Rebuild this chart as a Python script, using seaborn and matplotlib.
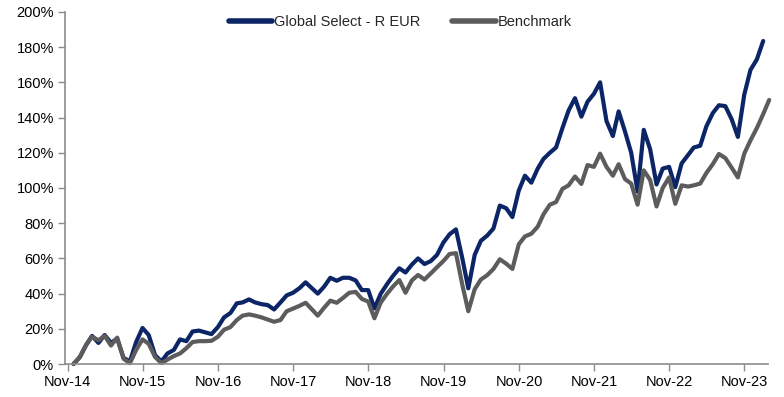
import pandas as pd
import matplotlib
matplotlib.use("Agg")
import matplotlib.pyplot as plt
import matplotlib.dates as mdates
from matplotlib.ticker import PercentFormatter, MultipleLocator
import seaborn as sns

# Rentabilidad acumulada (%) a fin de mes, desde nov-14
SERIE_FONDO = "Global Select - R EUR"
SERIE_BENCH = "Benchmark"

fondo = [
    0, 4, 11, 16, 12, 16.5, 12, 14.5, 3.5, 1.5, 12.5, 20.5, 16.5, 5, 1.5, 6, 8, 14, 13, 18.5,
    19, 18, 17, 21, 26.5, 29, 34.5, 35, 36.7, 35, 34, 33.5, 31, 35, 39, 40.5, 43, 46.4, 43, 40,
    44, 49, 47.3, 49, 49, 47.5, 42, 42, 31.6, 40, 45.5, 50, 54.4, 52, 56.5, 60, 56.8, 58.5, 62, 69,
    73.7, 76.5, 60, 43, 62, 70, 73, 77, 90, 88.5, 83.5, 98.5, 107, 103, 111, 116.5, 120, 123, 134, 144,
    151, 140.5, 149, 153.5, 160, 138, 129.5, 143.5, 132, 120, 98, 133, 122, 102, 111, 112, 100.5, 114, 118.7, 123,
    124, 135, 142.5, 147, 146.5, 139, 129, 153, 167, 173, 183.5,
]

benchmark = [
    0, 4, 11, 15.5, 13.5, 16, 10.5, 15, 3, 0.5, 8, 14, 11.5, 4, 0.5, 2.5, 4.5, 6, 9, 12.5,
    13, 13, 13.2, 15.5, 19.5, 21, 25, 27.5, 28.2, 27.5, 26.5, 25.3, 24, 25, 30, 31.5, 33, 34.8, 31, 27.5,
    32, 36, 34.8, 37.5, 40.5, 41, 37, 35.5, 26, 35, 40, 44, 47.7, 40.5, 47.5, 50.6, 48, 51.5, 55, 58.5,
    62.5, 63, 45, 30, 42.5, 48, 50.5, 54, 59.5, 57, 54, 68, 72.5, 74, 78, 85, 90.5, 92, 99.5, 101.5,
    106.5, 102.3, 113, 112, 119.5, 112, 107, 113.5, 105, 102.5, 90.5, 110, 104.5, 89.5, 100, 106, 91, 101.5, 100.8, 101.5,
    102.5, 108.5, 113.5, 119.3, 117, 111.5, 106, 119.5, 127, 134, 142, 150,
]

fechas = pd.date_range("2014-12-01", periods=len(benchmark), freq="MS") - pd.Timedelta(days=1)
ticks_x = pd.date_range("2014-11-01", "2023-11-01", freq="12MS")

df = pd.concat([
    pd.DataFrame({"fecha": fechas[:len(fondo)], "valor": fondo, "serie": SERIE_FONDO}),
    pd.DataFrame({"fecha": fechas, "valor": benchmark, "serie": SERIE_BENCH}),
], ignore_index=True)

colores = {SERIE_FONDO: "#0B2566", SERIE_BENCH: "#5C5C5C"}

sns.set_theme(style="white")
plt.rcParams["font.family"] = ["Liberation Sans", "DejaVu Sans"]

fig = plt.figure(figsize=(7.84, 3.97), dpi=100)
ax = fig.add_axes([0.083, 0.083, 0.896, 0.887])

sns.lineplot(data=df, x="fecha", y="valor", hue="serie",
             hue_order=[SERIE_FONDO, SERIE_BENCH], palette=colores,
             linewidth=3.0, ax=ax, legend=True)
for ln in ax.lines:
    ln.set_clip_on(False)
    ln.set_solid_capstyle("round")
    ln.set_solid_joinstyle("round")

ax.set_ylim(0, 200)
ax.yaxis.set_major_locator(MultipleLocator(20))
ax.yaxis.set_major_formatter(PercentFormatter(100, decimals=0))
ax.set_xlim(pd.Timestamp("2014-10-20"), pd.Timestamp("2024-02-21"))
ax.set_xticks(ticks_x)
ax.xaxis.set_major_formatter(mdates.DateFormatter("%b-%y"))
ax.set_xlabel("")
ax.set_ylabel("")

gris = "#8C8C8C"
for lado in ["top", "right"]:
    ax.spines[lado].set_visible(False)
for lado in ["left", "bottom"]:
    ax.spines[lado].set_color(gris)
    ax.spines[lado].set_linewidth(1.2)
ax.tick_params(axis="both", which="major", direction="out", length=5, width=1,
               color=gris, labelsize=10.5, labelcolor="black", pad=3)
ax.tick_params(axis="x", bottom=True)
ax.tick_params(axis="y", left=True)

handles, labels = ax.get_legend_handles_labels()
leg = ax.legend(handles, labels, loc="center", bbox_to_anchor=(0.477, 0.972),
                ncol=2, frameon=False, fontsize=10.5, handlelength=3.0,
                handletextpad=0.1, columnspacing=2.2, borderaxespad=0)
for h in leg.get_lines():
    h.set_linewidth(4)

fig.savefig("out.png", dpi=100, facecolor="white")
